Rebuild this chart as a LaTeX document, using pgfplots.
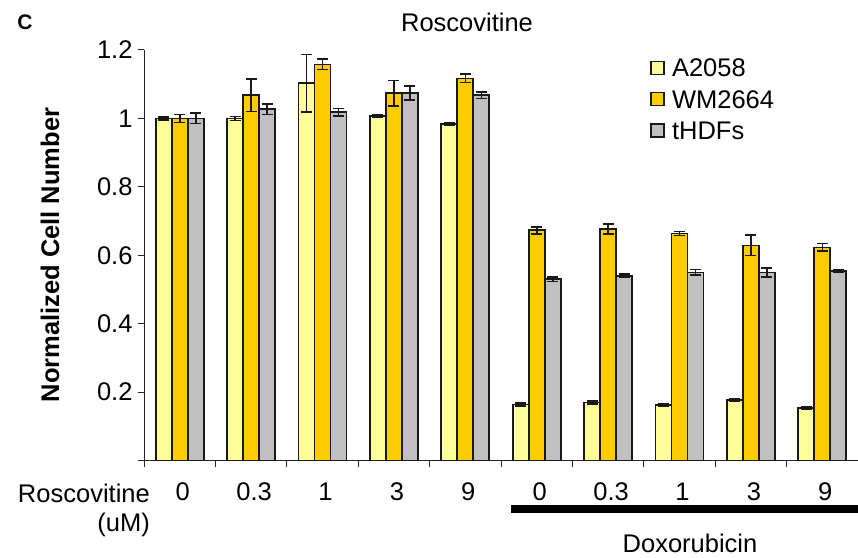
\documentclass[border=0pt]{standalone}
\usepackage{pgfplots}
\pgfplotsset{compat=1.18}
\usepackage{pgfplotstable}
\usepackage{fontspec}
\setmainfont{Liberation Sans}

\definecolor{cA}{RGB}{255,255,153}
\definecolor{cW}{RGB}{255,204,0}
\definecolor{cT}{RGB}{192,192,192}

% group index, mean, error (groups 0-4: roscovitine alone; 5-9: with doxorubicin)
\pgfplotstableread{
x y e
0 1.000 0.005
1 1.000 0.006
2 1.103 0.084
3 1.008 0.003
4 0.984 0.004
5 0.164 0.004
6 0.170 0.005
7 0.163 0.003
8 0.178 0.004
9 0.153 0.003
}\tA
\pgfplotstableread{
x y e
0 1.000 0.012
1 1.068 0.048
2 1.158 0.015
3 1.074 0.037
4 1.117 0.012
5 0.673 0.010
6 0.677 0.015
7 0.664 0.006
8 0.629 0.030
9 0.623 0.011
}\tW
\pgfplotstableread{
x y e
0 1.000 0.015
1 1.027 0.016
2 1.018 0.011
3 1.074 0.020
4 1.068 0.010
5 0.530 0.007
6 0.540 0.005
7 0.550 0.008
8 0.550 0.013
9 0.555 0.004
}\tT

\newcommand{\lbl}{\fontsize{25.5}{30}\selectfont}

\begin{document}
\begin{tikzpicture}[x=1pt,y=1pt]
\useasboundingbox (-144,-96.4) rectangle (714,460.6);
\begin{axis}[
  at={(0,0)}, anchor=south west,
  scale only axis, width=714pt, height=410.6pt,
  xmin=-0.5, xmax=9.5, ymin=0, ymax=1.2,
  ybar=0pt, bar width=16pt,
  axis x line=bottom, axis y line=left,
  axis line style={-, line width=1pt, black!85},
  tick align=outside, major tick length=6pt,
  tick style={black!85, line width=1pt},
  xtick={-0.5,0.5,1.5,2.5,3.5,4.5,5.5,6.5,7.5,8.5,9.5},
  xticklabels={},
  extra x ticks={0,1,2,3,4,5,6,7,8,9},
  extra x tick labels={0,0.3,1,3,9,0,0.3,1,3,9},
  extra x tick style={major tick length=0pt,
    tick label style={anchor=center, yshift=-31.4pt, xshift=3pt}},
  ytick={0,0.2,0.4,0.6,0.8,1,1.2},
  yticklabels={,0.2,0.4,0.6,0.8,1,1.2},
  yticklabel style={xshift=-2pt},
  tick label style={font=\lbl},
  legend style={draw=none, fill=none, at={(0.709,0.983)}, anchor=north west,
    font=\lbl, inner sep=0pt, row sep=8pt, column sep=5pt},
  legend cell align=left,
  every axis plot post/.append style={
    legend image code/.code={\draw[##1, line width=1.6pt] (0pt,-5.5pt) rectangle (13pt,7.5pt);}},
  error bars/y dir=both, error bars/y explicit,
  error bars/error bar style={line width=1.6pt, black!90},
  error bars/error mark options={rotate=90, mark size=5.5pt, line width=1.6pt, black!90},
]
\addplot[fill=cA, draw=black!90, line width=1.7pt] table[x=x, y=y, y error=e] {\tA};
\addlegendentry{A2058}
\addplot[fill=cW, draw=black!90, line width=1.7pt] table[x=x, y=y, y error=e] {\tW};
\addlegendentry{WM2664}
\addplot[fill=cT, draw=black!90, line width=1.7pt] table[x=x, y=y, y error=e] {\tT};
\addlegendentry{tHDFs}
\end{axis}

\node[font=\bfseries\fontsize{21}{24}\selectfont] at (-119,438.6) {C};
\node[font=\lbl] at (323,438.6) {Roscovitine};
\node[rotate=90, font=\bfseries\fontsize{25.5}{30}\selectfont] at (-94,205.6) {Normalized Cell Number};
\node[anchor=east, inner sep=0pt, font=\lbl] at (6,-32.4) {Roscovitine};
\node[anchor=east, inner sep=0pt, font=\lbl] at (6,-64.4) {(uM)};
\fill[black] (367,-44.4) rectangle (714,-52.4);
\node[font=\lbl] at (546,-82.4) {Doxorubicin};
\end{tikzpicture}
\end{document}
